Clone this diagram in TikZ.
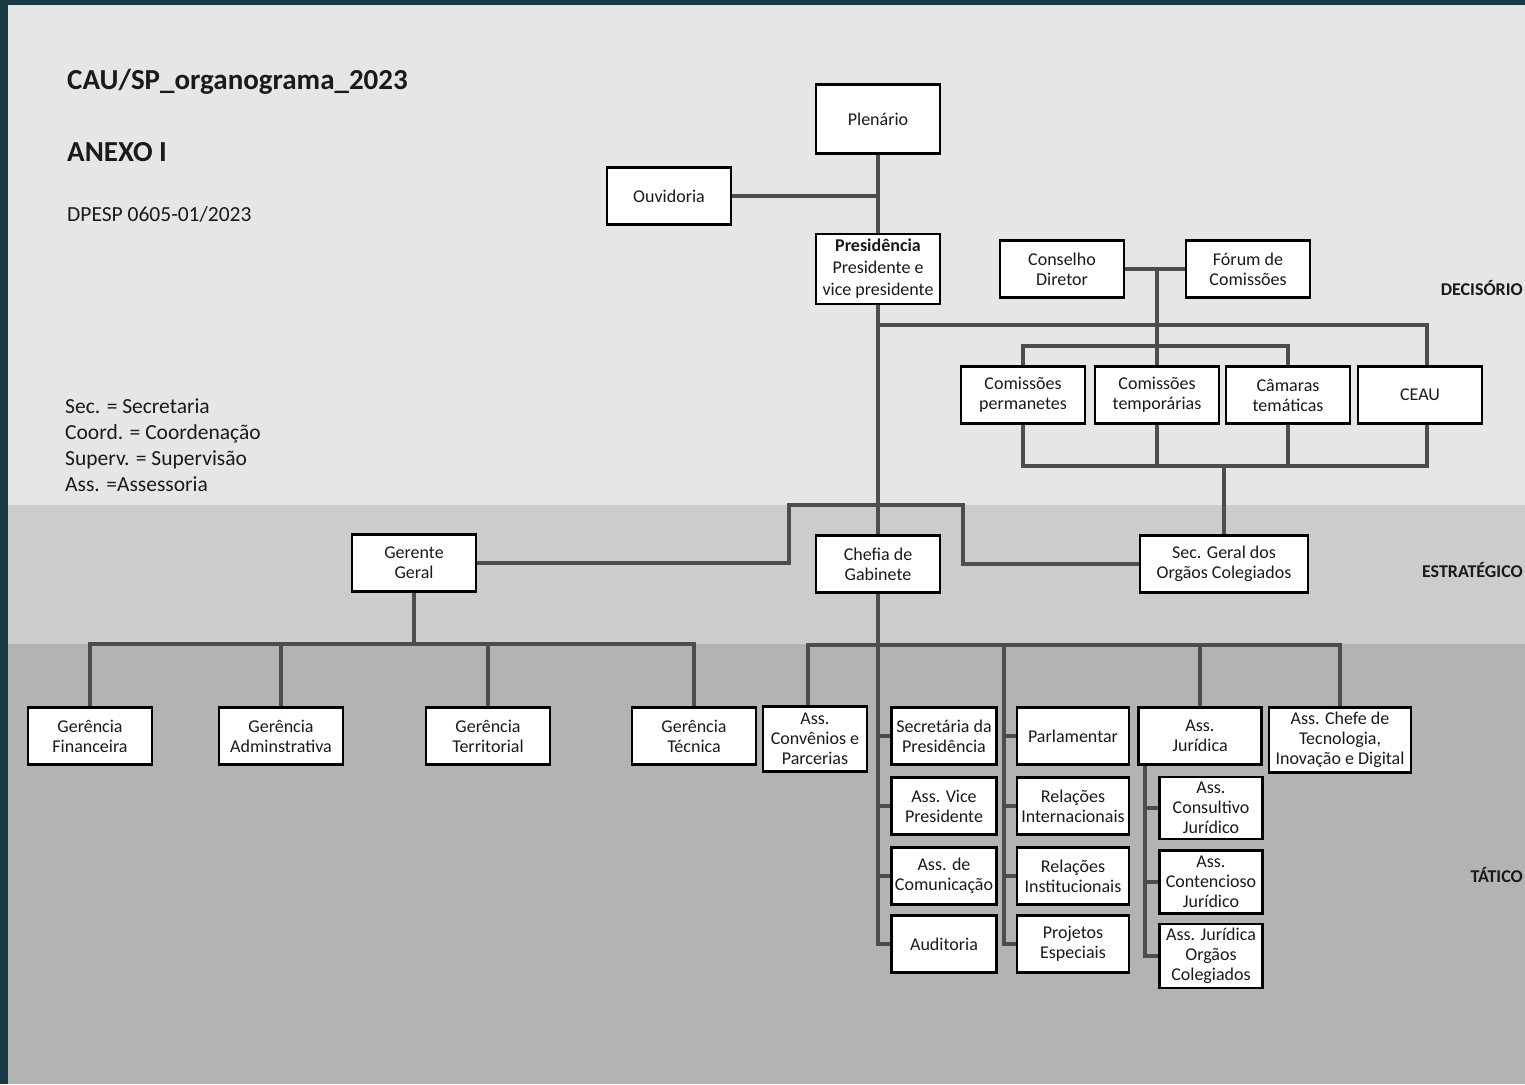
\documentclass[tikz,border=0pt]{standalone}
\usepackage{fontspec}
\setmainfont{Carlito}
\definecolor{frame}{HTML}{1B3A44}
\definecolor{bandA}{HTML}{E6E6E6}
\definecolor{bandB}{HTML}{CCCCCC}
\definecolor{bandC}{HTML}{B3B3B3}
\definecolor{linec}{HTML}{4D4D4D}
\definecolor{txt}{HTML}{1A1A1A}
\begin{document}
\begin{tikzpicture}[x=1pt,y=-1pt,
  box/.style={draw=black, line width=1.6pt, fill=white, align=center, inner sep=0pt,
    text=txt, font=\fontsize{18}{20}\selectfont, minimum width=123pt, minimum height=56pt},
  conn/.style={draw=linec, line width=3.6pt},
  lvl/.style={anchor=east, inner sep=0pt, font=\fontsize{18}{20}\selectfont\bfseries, text=txt},
  plain/.style={anchor=west, text=txt, inner sep=0pt}]
\useasboundingbox (0,0) rectangle (1525,1084);
\fill[frame] (0,0) rectangle (1525,1084);
\fill[bandA] (8,5) rectangle (1525,505);
\fill[bandB] (8,505) rectangle (1525,644);
\fill[bandC] (8,644) rectangle (1525,1084);

% titles
\node[plain, font=\fontsize{29}{32}\selectfont\bfseries] (t1) at (67,82) {CAU/SP\_organograma\_2023};
\node[plain, font=\fontsize{29}{32}\selectfont\bfseries] (t2) at (67,152) {ANEXO I};
\node[plain, font=\fontsize{21.5}{24}\selectfont] (t3) at (67,214) {DPESP 0605-01/2023};
\node[plain, font=\fontsize{21.5}{26}\selectfont, align=left, anchor=north west] (leg) at (65,399)
  {Sec. = Secretaria\\Coord. = Coordenação\\Superv. = Supervisão\\Ass. =Assessoria};

\node[lvl] (l1) at (1523,288) {DECISÓRIO};
\node[lvl] (l2) at (1523,570) {ESTRATÉGICO};
\node[lvl] (l3) at (1523,875) {TÁTICO};

% decision level
\node[box, minimum height=68pt] (plen) at (878,119) {Plenário};
\node[box] (ouv) at (669,196) {Ouvidoria};
\node[box, minimum height=69pt, font=\fontsize{18}{22}\selectfont] (pres) at (878,269) {\textbf{Presidência}\\Presidente e\\vice presidente};
\node[box] (cd) at (1062,269) {Conselho\\Diretor};
\node[box] (fc) at (1248,269) {Fórum de\\Comissões};
\node[box] (cp) at (1023,395) {Comissões\\permanetes};
\node[box] (ct) at (1157,395) {Comissões\\temporárias};
\node[box] (cam) at (1288,395) {Câmaras\\temáticas};
\node[box] (ceau) at (1420,395) {CEAU};

% strategic level
\node[box] (gg) at (414,563) {Gerente\\Geral};
\node[box] (chef) at (878,564) {Chefia de\\Gabinete};
\node[box, minimum width=167pt] (sg) at (1224,564) {Sec. Geral dos\\Orgãos Colegiados};

% tactical level
\node[box] (gf) at (90,736) {Gerência\\Financeira};
\node[box] (ga) at (281,736) {Gerência\\Adminstrativa};
\node[box] (gt) at (488,736) {Gerência\\Territorial};
\node[box] (gtec) at (694,736) {Gerência\\Técnica};

\node[box, minimum width=103pt, minimum height=64pt] (acp) at (815,739) {Ass.\\Convênios e\\Parcerias};
\node[box, minimum width=104pt] (spres) at (944,736) {Secretária da\\Presidência};
\node[box, minimum width=104pt] (avp) at (944,806) {Ass. Vice\\Presidente};
\node[box, minimum width=104pt] (acom) at (944,876) {Ass. de\\Comunicação};
\node[box, minimum width=104pt] (aud) at (944,944) {Auditoria};

\node[box, minimum width=111pt] (parl) at (1073,736) {Parlamentar};
\node[box, minimum width=111pt] (rint) at (1073,806) {Relações\\Internacionais};
\node[box, minimum width=111pt] (rins) at (1073,876) {Relações\\Institucionais};
\node[box, minimum width=111pt] (pesp) at (1073,944) {Projetos\\Especiais};

\node[box, minimum width=122pt] (aj) at (1200,736) {Ass.\\Jurídica};
\node[box, minimum width=102pt, minimum height=61pt] (acj) at (1211,808) {Ass.\\Consultivo\\Jurídico};
\node[box, minimum width=102pt, minimum height=62pt] (actj) at (1211,882) {Ass.\\Contencioso\\Jurídico};
\node[box, minimum width=102pt, minimum height=63pt] (ajoc) at (1211,956) {Ass. Jurídica\\Orgãos\\Colegiados};
\node[box, minimum width=141pt, minimum height=64pt] (atec) at (1340,740) {Ass. Chefe de\\Tecnologia,\\Inovação e Digital};

% connectors
\draw[conn] (plen.south) -- (pres.north);
\draw[conn] (ouv.east) -- (ouv.east -| plen.south);
\draw[conn] (cd.east) -- (fc.west);
\draw[conn] (ct.north |- cd.east) -- (ct.north);
\draw[conn] (pres.south |- 0,325) -| ([xshift=7pt]ceau.north);
\draw[conn] (cp.north) |- (cam.north |- 0,346) -- (cam.north);
\draw[conn] (cp.south) |- ([xshift=7pt]ceau.south |- 0,466) -- ([xshift=7pt]ceau.south);
\draw[conn] (ct.south) -- (ct.south |- 0,466);
\draw[conn] (cam.south) -- (cam.south |- 0,466);
\draw[conn] (sg.north) -- (sg.north |- 0,466);

\draw[conn] (pres.south) -- (chef.north);
\draw[conn] (gg.east) -| (789,505) -- (963,505) |- (sg.west);

\draw[conn] (gg.south) -- (gg.south |- 0,644);
\draw[conn] (gf.north) |- (gtec.north |- 0,644) -- (gtec.north);
\draw[conn] (ga.north) -- (ga.north |- 0,644);
\draw[conn] (gt.north) -- (gt.north |- 0,644);

\draw[conn] (chef.south) |- (aud.west);
\draw[conn] ([xshift=-7pt]acp.north) |- (atec.north |- 0,645) -- (atec.north);
\draw[conn] (aj.north) -- (aj.north |- 0,645);
\draw[conn] (spres.west) -- (spres.west -| chef.south);
\draw[conn] (avp.west) -- (avp.west -| chef.south);
\draw[conn] (acom.west) -- (acom.west -| chef.south);
\draw[conn] (1004,645) |- (pesp.west);
\draw[conn] (parl.west) -- ++(-14,0);
\draw[conn] (rint.west) -- ++(-14,0);
\draw[conn] (rins.west) -- ++(-14,0);
\draw[conn] ([xshift=7pt]aj.south west) |- (ajoc.west);
\draw[conn] (acj.west) -- ++(-14,0);
\draw[conn] (actj.west) -- ++(-14,0);

% redraw box outlines on top of connector ends
\foreach \n in {plen,ouv,pres,cd,fc,cp,ct,cam,ceau,gg,chef,sg,gf,ga,gt,gtec,acp,spres,avp,acom,aud,parl,rint,rins,pesp,aj,acj,actj,ajoc,atec}{
  \draw[black, line width=1.6pt] (\n.south west) rectangle (\n.north east);
}
\end{tikzpicture}
\end{document}
